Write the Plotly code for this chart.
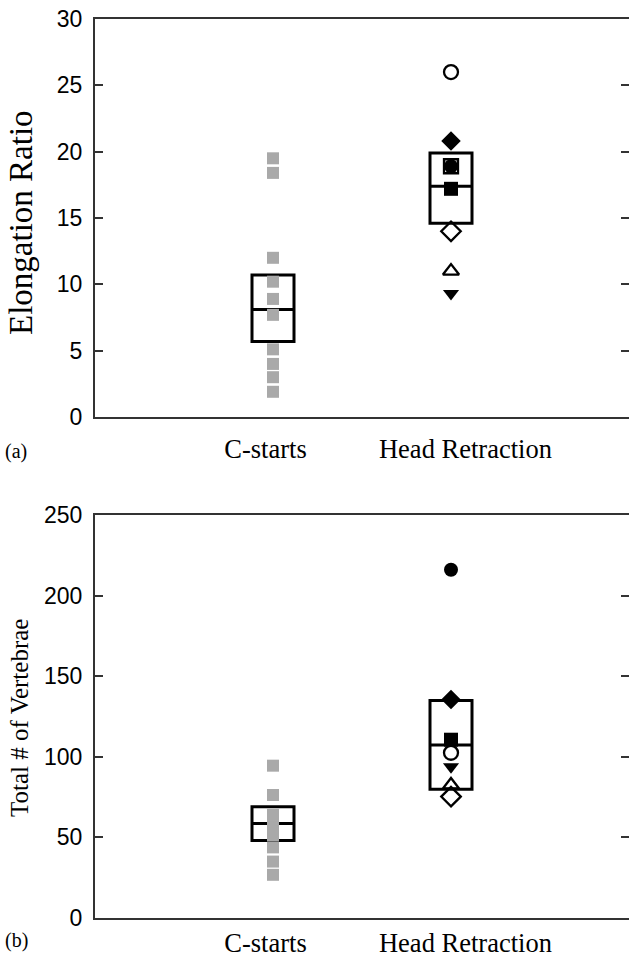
import plotly.graph_objects as go

# ---------------- data ----------------
categories = ["C-starts", "Head Retraction"]
cat_pos = [0, 1]

# Panel (a) Elongation ratio
cstart_a = [19.5, 18.4, 12.0, 10.2, 8.9, 7.7, 5.1, 4.0, 3.0, 1.9]
box_c_a = dict(q1=5.7, median=8.1, q3=10.7)
box_h_a = dict(q1=14.6, median=17.4, q3=19.9)

# Panel (b) Total number of vertebrae
cstart_b = [94.5, 76.3, 64.0, 57.0, 51.5, 43.8, 35.0, 26.8]
box_c_b = dict(q1=48.0, median=58.7, q3=69.0)
box_h_b = dict(q1=79.8, median=107.3, q3=135.0)

# Head retraction individuals (one symbol per individual)
head_symbols = ["circle-open", "diamond", "circle", "square-open", "square",
                "diamond-open", "triangle-up-open", "triangle-down"]
head_a = [26.0, 20.8, 18.9, 18.9, 17.2, 14.0, 11.0, 9.3]
head_b = [102.5, 135.5, 216.0, None, 110.6, 75.3, 82.5, 93.9]

tick_label_pos = [-0.042, 1.081]

GREY = "#a9a9a9"
AXC = "#333333"

fig = go.Figure()


def add_panel(xa, ya, ya_overlay, cvals, box_c, box_h, hvals):
    fig.add_trace(go.Scatter(
        x=[cat_pos[0]] * len(cvals), y=cvals, mode="markers",
        marker=dict(symbol="square", size=12, color=GREY),
        xaxis=xa, yaxis=ya, showlegend=False, hoverinfo="y"))
    for pos, b in zip(cat_pos, [box_c, box_h]):
        fig.add_trace(go.Box(
            x=[pos], q1=[b["q1"]], median=[b["median"]], q3=[b["q3"]],
            lowerfence=[b["q1"]], upperfence=[b["q3"]],
            width=0.236, whiskerwidth=0, boxpoints=False,
            fillcolor="rgba(0,0,0,0)", line=dict(color="black", width=3),
            xaxis=xa, yaxis=ya, showlegend=False, hoverinfo="skip"))
    for sym, v in zip(head_symbols, hvals):
        if v is None:
            continue
        is_open = sym.endswith("-open")
        size = 14
        if sym.startswith("diamond"):
            size = 15
        fig.add_trace(go.Scatter(
            x=[cat_pos[1]], y=[v], mode="markers",
            marker=dict(symbol=sym, size=size, color="black",
                        line=dict(color="black", width=2.3 if is_open else 0)),
            xaxis=xa, yaxis=ya_overlay, showlegend=False, hoverinfo="y"))


add_panel("x", "y", "y3", cstart_a, box_c_a, box_h_a, head_a)
add_panel("x2", "y2", "y4", cstart_b, box_c_b, box_h_b, head_b)

top_dom = [(918 - 417) / 899, 1.0]
bot_dom = [0.0, (918 - 515) / 899]

xcommon = dict(range=[-1, 2], showline=True, mirror=True, linecolor=AXC, linewidth=2,
               ticks="", showgrid=False, zeroline=False,
               tickvals=tick_label_pos, ticktext=categories,
               tickfont=dict(family="Liberation Serif", size=26.5, color="black"))
ycommon = dict(showline=True, linecolor=AXC, linewidth=2, ticks="inside", ticklen=8,
               tickwidth=1.5, tickcolor=AXC, showgrid=False, zeroline=False,
               tickfont=dict(family="Liberation Sans", size=23, color="black"),
               ticklabelstandoff=6)
yright = dict(side="right", showline=False, ticks="inside", ticklen=8,
              tickwidth=1.5, tickcolor=AXC, showticklabels=False, showgrid=False,
              zeroline=False)

fig.update_layout(
    width=629, height=957,
    margin=dict(l=95, r=0, t=19, b=39),
    plot_bgcolor="white", paper_bgcolor="white",
    xaxis=dict(**xcommon, domain=[0, 1], anchor="y", ticklabelstandoff=7),
    yaxis=dict(**ycommon, domain=top_dom, range=[0, 30], dtick=5, anchor="x"),
    xaxis2=dict(**xcommon, domain=[0, 1], anchor="y2", ticklabelstandoff=0),
    yaxis2=dict(**ycommon, domain=bot_dom, range=[0, 250], dtick=50, anchor="x2"),
    yaxis3=dict(**yright, overlaying="y", range=[0, 30], dtick=5, anchor="x"),
    yaxis4=dict(**yright, overlaying="y2", range=[0, 250], dtick=50, anchor="x2"),
    annotations=[
        dict(text="Elongation Ratio", textangle=-90, xref="paper", yref="paper",
             x=(21 - 95) / 534, y=(918 - 223) / 899, xanchor="center", yanchor="middle",
             showarrow=False, font=dict(family="Liberation Serif", size=33, color="black")),
        dict(text="Total # of Vertebrae", textangle=-90, xref="paper", yref="paper",
             x=(19 - 95) / 534, y=(918 - 718) / 899, xanchor="center", yanchor="middle",
             showarrow=False, font=dict(family="Liberation Serif", size=25, color="black")),
        dict(text="(a)", xref="paper", yref="paper", x=(3 - 95) / 534, y=(918 - 451) / 899,
             xanchor="left", yanchor="middle", showarrow=False,
             font=dict(family="Liberation Serif", size=20, color="black")),
        dict(text="(b)", xref="paper", yref="paper", x=(3 - 95) / 534, y=(918 - 941) / 899,
             xanchor="left", yanchor="middle", showarrow=False,
             font=dict(family="Liberation Serif", size=20, color="black")),
    ],
)

fig.write_html("out.html")
